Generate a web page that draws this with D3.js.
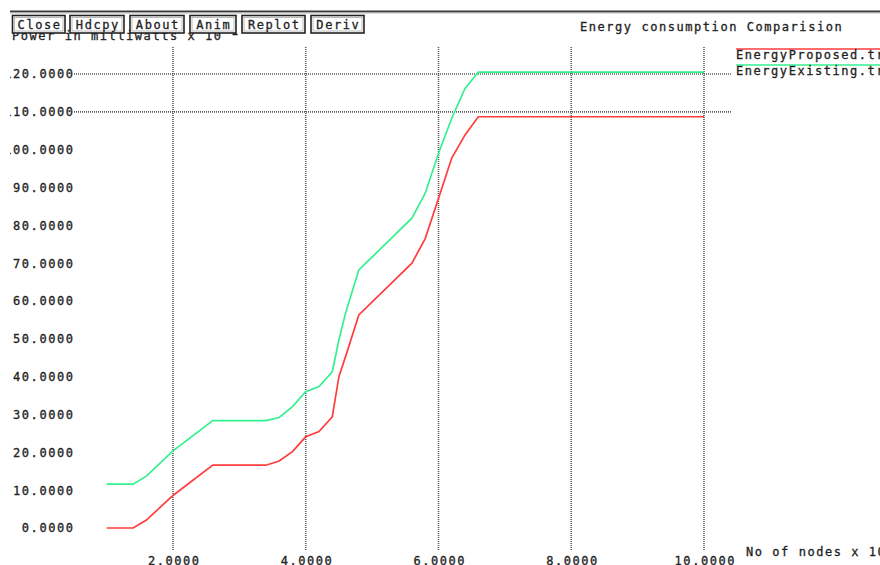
<!DOCTYPE html>
<html>
<head>
<meta charset="utf-8">
<script src="https://d3js.org/d3.v7.min.js"></script>
<style>
    body { margin: 0; background: #fff; }
    svg { display: block; }
    .mono { font-family: "DejaVu Sans Mono", "Liberation Mono", monospace; font-size: 12px; letter-spacing: 1.55px; fill: #222; stroke: #222; stroke-width: 0.3px; }
</style>
</head>
<body>
<div id="chart"></div>
<script>
// data
var nodes = [1, 1.4, 1.6, 2, 2.6, 3.4, 3.6, 3.8, 4, 4.2, 4.4, 4.5, 4.6, 4.8, 5.6, 5.8, 6, 6.2, 6.4, 6.6, 10];
var energyProposed = [0, 0, 2.1, 8.6, 16.6, 16.6, 17.7, 20.2, 24.1, 25.5, 29.4, 40, 45.3, 56.3, 70, 76.5, 87.1, 97.8, 103.9, 108.7, 108.7];
var energyExisting = [11.6, 11.6, 13.7, 20.4, 28.4, 28.4, 29.2, 32.1, 36, 37.4, 41.3, 49.7, 56.8, 68.2, 81.9, 88.5, 99, 108.3, 116.2, 120.5, 120.5];
var seriesNames = ["EnergyProposed.tr", "EnergyExisting.tr"];
var xTicks = [2, 4, 6, 8, 10];
var yTicks = [0, 10, 20, 30, 40, 50, 60, 70, 80, 90, 100, 110, 120];
var yGridTicks = [110, 120];
var buttons = ["Close", "Hdcpy", "About", "Anim", "Replot", "Deriv"];

var width = 880, height = 565;
var colors = ["#ff3d3d", "#35f08e"];

var svg = d3.select("#chart").append("svg")
    .attr("width", width)
    .attr("height", height);

// the xgraph window is cut off at the left edge of the screenshot
svg.append("clipPath").attr("id", "win")
    .append("rect")
    .attr("x", 10).attr("y", 0)
    .attr("width", width - 10).attr("height", height);

var vis = svg.append("g").attr("clip-path", "url(#win)");

// window border along the top
vis.append("rect").attr("x", 9).attr("y", 10.5).attr("width", width).attr("height", 2).attr("fill", "#3a3a3a");
vis.append("rect").attr("x", 9).attr("y", 12.5).attr("width", width).attr("height", 1).attr("fill", "#bbb");

// scales
var x = d3.scaleLinear().domain([0, 10]).range([40.2, 704]);
var y = d3.scaleLinear().domain([0, 120]).range([528, 74]);

// grid
var gridStyle = function(sel) {
    sel.attr("stroke", "#5a5a5a").attr("stroke-width", 1.6).attr("stroke-dasharray", "1,1");
};
vis.selectAll(".vgrid").data(xTicks).enter()
    .append("line").attr("class", "vgrid")
    .attr("x1", function(d) { return x(d); })
    .attr("x2", function(d) { return x(d); })
    .attr("y1", 47).attr("y2", 550)
    .call(gridStyle);
vis.selectAll(".hgrid").data(yGridTicks).enter()
    .append("line").attr("class", "hgrid")
    .attr("x1", 74).attr("x2", 732)
    .attr("y1", function(d) { return y(d); })
    .attr("y2", function(d) { return y(d); })
    .call(gridStyle);

// axes (labels only, xgraph style)
var fmt = d3.format(".4f");
var yAxis = d3.axisLeft(y).tickValues(yTicks).tickFormat(fmt).tickSize(0).tickPadding(0);
var xAxis = d3.axisBottom(x).tickValues(xTicks).tickFormat(fmt).tickSize(0).tickPadding(6.5);

var gy = vis.append("g").attr("transform", "translate(74.5,0)").call(yAxis);
var gx = vis.append("g").attr("transform", "translate(0,550)").call(xAxis);
[gx, gy].forEach(function(g) {
    g.select(".domain").remove();
    g.attr("font-family", null).attr("font-size", null);
    g.selectAll("text").attr("class", "mono").attr("fill", null);
});
gx.selectAll("text").attr("dx", "0.8px");

vis.append("text").attr("class", "mono")
    .attr("x", 746).attr("y", 556)
    .text("No of nodes x 10");

// y axis title, mostly hidden behind the buttons
vis.append("text").attr("class", "mono")
    .attr("x", 12).attr("y", 40)
    .text("Power in milliwatts x 10");
vis.append("text").attr("class", "mono")
    .attr("x", 231).attr("y", 35)
    .text("1");

vis.append("text").attr("class", "mono")
    .attr("x", 580).attr("y", 31)
    .text("Energy consumption Comparision");

// buttons
var btnX = [12.5, 70, 130, 190, 242, 311];
var btnW = [52.5, 54, 54, 46, 63, 53];
var btn = vis.selectAll(".btn").data(buttons).enter()
    .append("g").attr("class", "btn")
    .attr("transform", function(d, i) { return "translate(" + btnX[i] + ",15.5)"; });
btn.append("rect")
    .attr("width", function(d, i) { return btnW[i]; })
    .attr("height", 17.5)
    .attr("fill", "#fff").attr("stroke", "#222").attr("stroke-width", 1.6);
btn.append("rect")
    .attr("x", 2).attr("y", 2)
    .attr("width", function(d, i) { return btnW[i] - 4; })
    .attr("height", 13.5)
    .attr("fill", "none").attr("stroke", "#aaa").attr("stroke-width", 0.8);
btn.append("text").attr("class", "mono")
    .attr("x", function(d, i) { return btnW[i] / 2 + 0.8; })
    .attr("y", 13.5)
    .attr("text-anchor", "middle")
    .text(function(d) { return d; });

// series
var series = [energyProposed, energyExisting];
var line = d3.line()
    .x(function(d, i) { return x(nodes[i]); })
    .y(function(d) { return y(d); });

vis.selectAll(".series").data(series).enter()
    .append("path").attr("class", "series")
    .attr("d", line)
    .attr("fill", "none")
    .attr("stroke", function(d, i) { return colors[i]; })
    .attr("stroke-width", 1.7);

// legend
var leg = vis.selectAll(".legend").data(seriesNames).enter()
    .append("g").attr("class", "legend")
    .attr("transform", function(d, i) { return "translate(736," + (49 + i * 16) + ")"; });
leg.append("line")
    .attr("x1", 0).attr("x2", 150)
    .attr("stroke", function(d, i) { return colors[i]; })
    .attr("stroke-width", 1.6);
leg.append("text").attr("class", "mono")
    .attr("x", 0).attr("y", 9.5)
    .text(function(d) { return d; });
</script>
</body>
</html>
